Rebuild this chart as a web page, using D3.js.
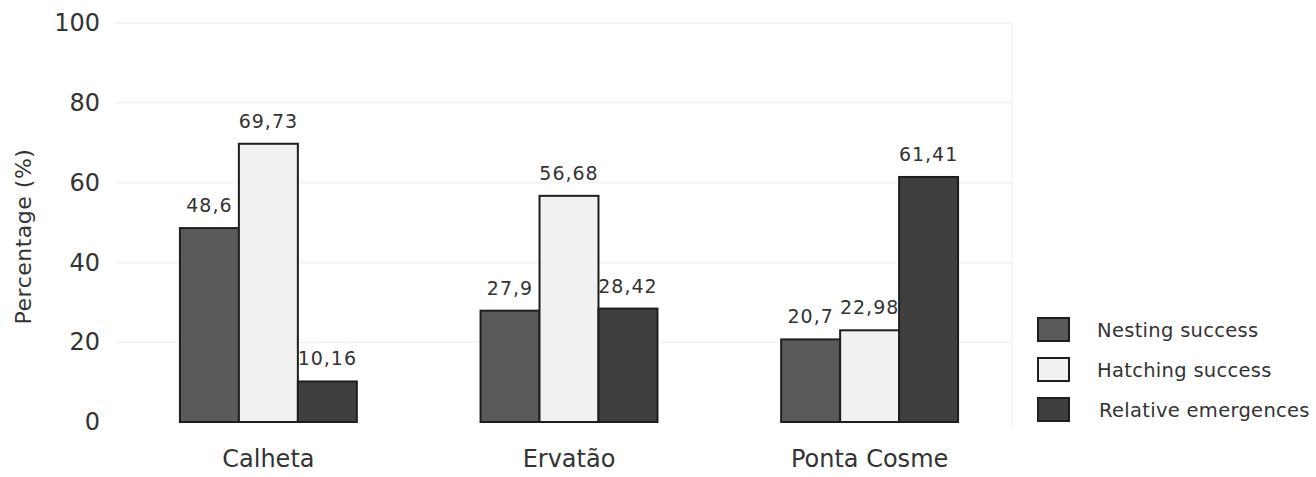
<!DOCTYPE html>
<html>
<head>
<meta charset="utf-8">
<script src="https://cdn.jsdelivr.net/npm/d3@7"></script>
<style>
  html, body { margin: 0; padding: 0; background: #ffffff; }
  svg { display: block; }
  text { font-family: "DejaVu Sans", Verdana, sans-serif; }
</style>
</head>
<body>
<svg id="chart" width="1316" height="477"></svg>
<script>
// ---- data ----
const sites = ["Calheta", "Ervatão", "Ponta Cosme"];
const seriesNames = ["Nesting success", "Hatching success", "Relative emergences"];
const nestingSuccess = [48.6, 27.9, 20.7];
const hatchingSuccess = [69.73, 56.68, 22.98];
const relativeEmergences = [10.16, 28.42, 61.41];
const valueLabels = [
  ["48,6", "69,73", "10,16"],
  ["27,9", "56,68", "28,42"],
  ["20,7", "22,98", "61,41"]
];
const yTicks = [0, 20, 40, 60, 80, 100];
const seriesColors = ["#5a5a5a", "#f1f1f1", "#3f3f3f"];

const seriesValues = [nestingSuccess, hatchingSuccess, relativeEmergences];

// ---- layout ----
const svg = d3.select("#chart");
const plotLeft = 115, plotRight = 1012;
const y = d3.scaleLinear().domain([0, 100]).range([422, 23]);
const x = d3.scaleBand().domain(sites).range([118, 1020]).paddingInner(0.4115).paddingOuter(0.206);
const xs = d3.scaleBand().domain(seriesNames).range([0, x.bandwidth()]);

// faint gridlines
svg.append("g").selectAll("line").data(yTicks.filter(d => d > 0)).join("line")
  .attr("x1", plotLeft).attr("x2", plotRight)
  .attr("y1", d => y(d)).attr("y2", d => y(d))
  .attr("stroke", "#f4f4f4").attr("stroke-width", 2);
svg.append("line")
  .attr("x1", plotRight).attr("x2", plotRight)
  .attr("y1", y(100)).attr("y2", y(0) + 8)
  .attr("stroke", "#f6f6f6").attr("stroke-width", 2);

// y axis
const yAxis = svg.append("g")
  .attr("transform", `translate(${plotLeft},0)`)
  .call(d3.axisLeft(y).tickValues(yTicks).tickSize(0).tickPadding(15));
yAxis.select(".domain").remove();
yAxis.selectAll("text")
  .attr("font-family", "DejaVu Sans, sans-serif")
  .attr("font-size", 24)
  .attr("fill", "#333");

svg.append("text")
  .attr("transform", `translate(31,${y(50) + 14}) rotate(-90)`)
  .attr("text-anchor", "middle")
  .attr("font-size", 22)
  .attr("letter-spacing", 0.5)
  .attr("fill", "#333")
  .text("Percentage (%)");

// bars
const groups = svg.append("g").selectAll("g").data(sites).join("g")
  .attr("transform", d => `translate(${x(d)},0)`);

groups.selectAll("rect")
  .data((site, i) => seriesNames.map((s, j) => ({ s, j, v: seriesValues[j][i] })))
  .join("rect")
  .attr("x", d => xs(d.s))
  .attr("width", xs.bandwidth())
  .attr("y", d => y(d.v))
  .attr("height", d => y(0) - y(d.v))
  .attr("fill", d => seriesColors[d.j])
  .attr("stroke", "#1e1e1e")
  .attr("stroke-width", 2);

groups.selectAll("text.val")
  .data((site, i) => seriesNames.map((s, j) => ({ s, j, v: seriesValues[j][i], label: valueLabels[i][j] })))
  .join("text")
  .attr("class", "val")
  .attr("x", d => xs(d.s) + xs.bandwidth() / 2)
  .attr("y", d => y(d.v) - 16)
  .attr("text-anchor", "middle")
  .attr("font-size", 19)
  .attr("letter-spacing", 1)
  .attr("fill", "#333")
  .text(d => d.label);

// category labels
svg.append("g").selectAll("text").data(sites).join("text")
  .attr("x", d => x(d) + x.bandwidth() / 2)
  .attr("y", 467)
  .attr("text-anchor", "middle")
  .attr("font-size", 24)
  .attr("fill", "#333")
  .text(d => d);

// legend
const legend = svg.append("g").attr("transform", "translate(1038,318)");
const lg = legend.selectAll("g").data(seriesNames).join("g")
  .attr("transform", (d, i) => `translate(0,${i * 40})`);
lg.append("rect")
  .attr("width", 31).attr("height", 23)
  .attr("fill", (d, i) => seriesColors[i])
  .attr("stroke", "#1e1e1e").attr("stroke-width", 2);
lg.append("text")
  .attr("x", (d, i) => i === 2 ? 61 : 59)
  .attr("y", 19)
  .attr("font-size", 19.5)
  .attr("letter-spacing", 0.3)
  .attr("fill", "#333")
  .text(d => d);
</script>
</body>
</html>
